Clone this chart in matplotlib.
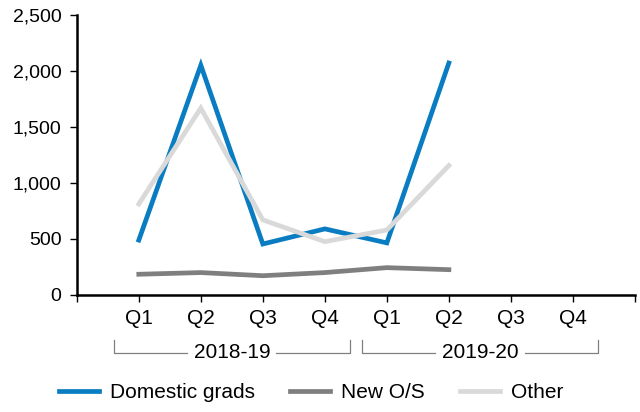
import matplotlib.pyplot as plt
from matplotlib.transforms import blended_transform_factory

plt.rcParams["font.family"] = ["Liberation Sans", "DejaVu Sans"]

# Data
quarters = ["Q1", "Q2", "Q3", "Q4", "Q1", "Q2", "Q3", "Q4"]
years = ["2018-19", "2019-20"]
domestic = [490, 2050, 455, 590, 465, 2070]
new_os = [185, 200, 172, 200, 244, 226]
other = [812, 1668, 670, 476, 580, 1155]
y_ticks = [0, 500, 1000, 1500, 2000, 2500]

fig = plt.figure(figsize=(6.4, 4.12), dpi=100)
ax = fig.add_axes([0.12, 0.284, 0.872, 0.68])

x = list(range(1, len(domestic) + 1))
ax.plot(x, domestic, color="#0a7dc2", lw=3.4, label="Domestic grads", solid_joinstyle="miter")
ax.plot(x, new_os, color="#7f7f7f", lw=3.4, label="New O/S", solid_joinstyle="miter")
ax.plot(x, other, color="#d9d9d9", lw=3.4, label="Other", solid_joinstyle="miter")

ax.set_xlim(0, 9)
ax.set_ylim(0, 2500)
ax.set_yticks(y_ticks)
ax.set_yticklabels([f"{v:,}" for v in y_ticks], fontsize=14)
ax.set_xticks(range(0, 10))
ax.set_xticklabels([])
ax.tick_params(axis="both", direction="out", length=5, width=1, color="black")
ax.tick_params(axis="y", pad=6)

for s in ["top", "right"]:
    ax.spines[s].set_visible(False)
for s in ["left", "bottom"]:
    ax.spines[s].set_linewidth(1.8)

# quarter labels
tr = blended_transform_factory(ax.transData, fig.transFigure)
for i, q in enumerate(quarters):
    ax.text(i + 1, 1 - 319 / 412, q, transform=tr, ha="center", va="center", fontsize=15)

# year brackets
y_top = 1 - 340 / 412
y_bot = 1 - 353 / 412
spans = [(0.6, 4.4), (4.6, 8.4)]
for (a, b), yr in zip(spans, years):
    mid = (a + b) / 2
    gap = 0.72
    kw = dict(transform=tr, color="#808080", lw=0.9, clip_on=False)
    ax.plot([a, a, mid - gap], [y_top, y_bot, y_bot], **kw)
    ax.plot([mid + gap, b, b], [y_bot, y_bot, y_top], **kw)
    ax.text(mid, y_bot, yr, transform=tr, ha="center", va="center", fontsize=15)

fig.legend(loc="center", bbox_to_anchor=(311 / 640, 1 - 393 / 412), ncol=3,
           frameon=False, fontsize=15, handlelength=1.92, handletextpad=0.53,
           columnspacing=1.68)

fig.savefig("out.png", dpi=100)
